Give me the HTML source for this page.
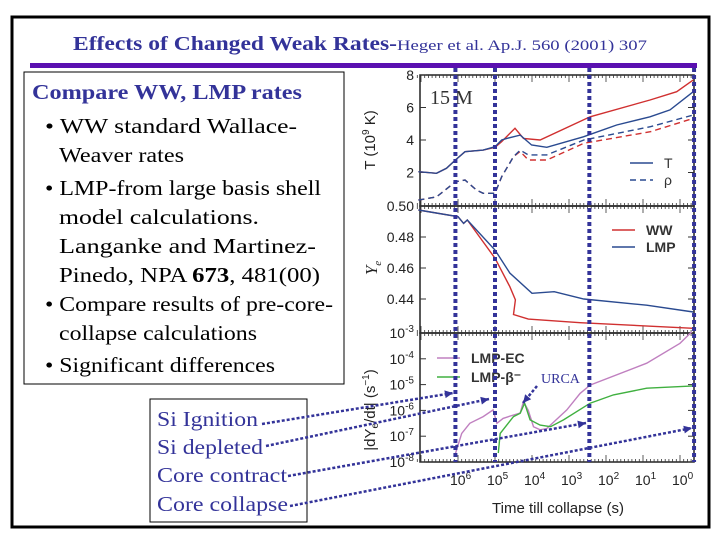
<!DOCTYPE html>
<html><head><meta charset="utf-8"><style>
body{margin:0;background:#fff;width:720px;height:540px;overflow:hidden}
svg{display:block}
.ser{font-family:"Liberation Serif",serif}
.san{font-family:"Liberation Sans",sans-serif}
</style></head><body>
<svg id="s" width="720" height="540" viewBox="0 0 720 540" xmlns="http://www.w3.org/2000/svg">
<rect x="12" y="17" width="697" height="510" fill="none" stroke="#000" stroke-width="3"/>
<text x="73" y="50" class="ser" fill="#333399"><tspan font-size="20" font-weight="bold" textLength="324" lengthAdjust="spacingAndGlyphs">Effects of Changed Weak Rates-</tspan><tspan font-size="15" textLength="250" lengthAdjust="spacingAndGlyphs">Heger et al. Ap.J. 560 (2001) 307</tspan></text>
<rect x="30" y="63" width="667" height="5" fill="#5a10b0"/>
<rect x="24" y="72" width="320" height="312" fill="#fff" stroke="#000" stroke-width="1"/>
<g class="ser" font-size="21">
<text x="32" y="99" fill="#333399" font-weight="bold" textLength="270" lengthAdjust="spacingAndGlyphs">Compare WW, LMP rates</text>
<text x="45" y="133" textLength="252" lengthAdjust="spacingAndGlyphs">• WW standard Wallace-</text>
<text x="59" y="162" textLength="125" lengthAdjust="spacingAndGlyphs">Weaver rates</text>
<text x="45" y="195" textLength="276" lengthAdjust="spacingAndGlyphs">• LMP-from large basis shell</text>
<text x="59" y="224" textLength="200" lengthAdjust="spacingAndGlyphs">model calculations.</text>
<text x="59" y="253" textLength="257" lengthAdjust="spacingAndGlyphs">Langanke and Martinez-</text>
<text x="59" y="282" textLength="261" lengthAdjust="spacingAndGlyphs">Pinedo, NPA <tspan font-weight="bold">673</tspan>, 481(00)</text>
<text x="45" y="311" textLength="288" lengthAdjust="spacingAndGlyphs">• Compare results of pre-core-</text>
<text x="59" y="340" textLength="198" lengthAdjust="spacingAndGlyphs">collapse calculations</text>
<text x="45" y="372" textLength="230" lengthAdjust="spacingAndGlyphs">• Significant differences</text>
</g>
<rect x="150" y="399" width="157" height="123" fill="#fff" stroke="#000" stroke-width="1"/>
<g class="ser" font-size="21" fill="#333399">
<text x="157" y="426" textLength="101" lengthAdjust="spacingAndGlyphs">Si Ignition</text>
<text x="157" y="454" textLength="106" lengthAdjust="spacingAndGlyphs">Si depleted</text>
<text x="157" y="482" textLength="130" lengthAdjust="spacingAndGlyphs">Core contract</text>
<text x="157" y="511" textLength="131" lengthAdjust="spacingAndGlyphs">Core collapse</text>
</g>
<g id="chart"></g>
</svg>
<script>
// ---- data (x = log10 time till collapse in s) ----
const xTicks=[6,5,4,3,2,1,0];
const tTicks=[2,4,6,8];
const yeTicks=[0.50,0.48,0.46,0.44];
const rTicks=[-3,-4,-5,-6,-7,-8];
const tBlueX=[7.07,6.58,6.31,6.07,5.81,5.32,5.0,4.82,4.68,4.32,4.01,3.6,2.61,1.71,0.81,0.27,-0.36];
const tBlueY=[2.05,1.95,2.26,2.77,3.28,3.38,3.59,4.0,4.1,4.3,3.69,3.55,4.2,4.92,5.43,5.85,6.97];
const tRedX=[7.07,6.58,6.31,6.07,5.81,5.32,5.0,4.82,4.46,4.23,3.78,2.43,0.81,0.09,-0.36];
const tRedY=[2.05,1.95,2.26,2.77,3.28,3.38,3.55,3.9,4.72,4.1,4.0,5.43,6.46,6.97,7.7];
const rhoBlueX=[7.07,6.58,6.07,5.81,5.5,5.32,5.0,4.82,4.5,4.32,4.1,3.6,2.6,0.8,-0.36];
const rhoBlueY=[0.3,0.5,1.43,1.54,0.92,0.72,0.72,1.74,2.97,3.38,3.08,3.08,4.0,4.82,5.54];
const rhoRedX=[7.07,6.58,6.07,5.81,5.5,5.32,5.0,4.82,4.5,4.32,4.1,3.6,2.6,0.8,-0.36];
const rhoRedY=[0.3,0.5,1.43,1.54,0.92,0.72,0.72,1.74,2.97,3.3,2.77,2.77,3.8,4.51,5.33];
const yeBlueX=[7.07,6.0,5.85,5.75,5.0,4.6,4.0,3.4,2.6,0.9,-0.36];
const yeBlueY=[0.4974,0.4931,0.4888,0.491,0.4716,0.4568,0.4437,0.4447,0.4400,0.4360,0.4316];
const yeRedX=[7.07,6.0,5.85,5.75,5.0,4.6,4.45,4.5,4.1,2.7,-0.36];
const yeRedY=[0.4974,0.4931,0.4888,0.491,0.4663,0.448,0.4394,0.4300,0.4270,0.4247,0.4211];
const ecX=[6.08,5.9,5.68,5.32,5.05,4.95,4.78,4.5,4.32,4.23,4.1,3.96,3.78,3.6,3.06,2.7,2.43,0.9,0,-0.32];
const ecY=[-7.73,-6.89,-6.5,-6.24,-5.98,-6.5,-6.31,-6.18,-6.1,-5.66,-6.0,-6.63,-6.75,-6.7,-5.98,-5.34,-5.02,-4.17,-3.4,-2.95];
const btX=[4.91,4.86,4.5,4.32,4.2,4.05,3.78,3.5,3.15,2.43,1.8,0.9,-0.36];
const btY=[-7.65,-6.89,-6.24,-6.11,-5.72,-6.37,-6.57,-6.63,-6.37,-5.72,-5.4,-5.14,-5.05];
const stageT=[6.07,5.0,2.45,-0.38];

// ---- axes ----
const L=420,R=694;
const X=v=>680-37*v;
const YT=v=>205-16.25*v;
const YE=v=>206+(0.50-v)/0.02*31;
const YR=v=>333+(-3-v)*25.8;
const NS='http://www.w3.org/2000/svg';
const g=document.getElementById('chart');
function mk(tag,at,parent){const e=document.createElementNS(NS,tag);for(const k in at)e.setAttribute(k,at[k]);(parent||g).appendChild(e);return e;}
function line(xs,ys,fy,color,name,dash){
  const d=xs.map((x,i)=>(i?'L':'M')+X(x).toFixed(1)+','+fy(ys[i]).toFixed(1)).join('');
  const p=mk('path',{d:d,fill:'none',stroke:color,'stroke-width':1.4});
  if(dash)p.setAttribute('stroke-dasharray','6,4');
  
  
}
[[75,206],[206,333],[333,462]].forEach((b,i)=>{
  const r=mk('rect',{x:L,y:b[0],width:R-L,height:b[1]-b[0],fill:'none',stroke:'#222','stroke-width':1.5});
  
  
});
for(let k=-0.3;k<7.1;k+=0.1){
  const v=Math.round(k*10)/10; const maj=Math.abs(v-Math.round(v))<1e-6;
  const len=maj?7:3;
  [206,333].forEach(y=>mk('line',{x1:X(v),x2:X(v),y1:y-len,y2:y+len,stroke:'#333','stroke-width':0.8}));
  mk('line',{x1:X(v),x2:X(v),y1:75,y2:75+len,stroke:'#333','stroke-width':0.8});
  mk('line',{x1:X(v),x2:X(v),y1:462,y2:462-len,stroke:'#333','stroke-width':0.8});
}
xTicks.forEach(v=>{
  const t=mk('text',{x:X(v)-8,y:485,'font-size':14,fill:'#222',class:'san'});
  t.textContent='10';
  const s=mk('tspan',{dy:-6,'font-size':10},t); s.textContent=String(v);
  
  
});
function ylab(txt,y,name,sup){
  const t=mk('text',{x:414,y:y+5,'font-size':14,fill:'#222','text-anchor':'end',class:'san'});
  t.textContent=txt;
  if(sup){const s=mk('tspan',{dy:-6,'font-size':10},t);s.textContent=sup;}
  
  
  mk('line',{x1:L,x2:L+6,y1:y,y2:y,stroke:'#333'});mk('line',{x1:R-6,x2:R,y1:y,y2:y,stroke:'#333'});
}
tTicks.forEach(v=>ylab(String(v),YT(v),'t-tick-label'));
yeTicks.forEach(v=>ylab(v.toFixed(2),YE(v),'ye-tick-label'));
rTicks.forEach(v=>ylab('10',YR(v),'rate-tick-label',String(v)));
let at=mk('text',{transform:'translate(375,140) rotate(-90)','font-size':15,fill:'#222','text-anchor':'middle',class:'san'});
at.innerHTML='T (10<tspan dy="-6" font-size="10">9</tspan><tspan dy="6"> K)</tspan>';


at=mk('text',{transform:'translate(377,268) rotate(-90)','font-size':17,fill:'#222','text-anchor':'middle',class:'ser','font-style':'italic'});
at.innerHTML='Y<tspan dy="4" font-size="11">e</tspan>';


at=mk('text',{transform:'translate(375,410) rotate(-90)','font-size':15,fill:'#222','text-anchor':'middle',class:'san'});
at.innerHTML='|dY<tspan font-size="10" dy="3">e</tspan><tspan dy="-3">/dt| (s</tspan><tspan dy="-6" font-size="10">−1</tspan><tspan dy="6">)</tspan>';


at=mk('text',{x:558,y:513,'font-size':15,fill:'#222','text-anchor':'middle',class:'san'});
at.textContent='Time till collapse (s)';


at=mk('text',{x:430,y:104,'font-size':20,fill:'#333',class:'ser'});
at.textContent='15 M';


line(rhoRedX,rhoRedY,YT,'#d03030','rho-ww',1);
line(rhoBlueX,rhoBlueY,YT,'#2a4a90','rho-lmp',1);
line(tRedX,tRedY,YT,'#d03030','t-ww');
line(tBlueX,tBlueY,YT,'#2a4a90','t-lmp');
line(yeRedX,yeRedY,YE,'#d03030','ye-ww');
line(yeBlueX,yeBlueY,YE,'#2a4a90','ye-lmp');
line(ecX,ecY,YR,'#c080c0','rate-lmp-ec');
line(btX,btY,YR,'#40b040','rate-lmp-beta');
function leg(y,color,txt,dash,x0,name,bold,fs){
  const l=mk('line',{x1:x0,x2:x0+23,y1:y,y2:y,stroke:color,'stroke-width':1.6});
  if(dash)l.setAttribute('stroke-dasharray','6,4');
  const t=mk('text',{x:x0+34,y:y+5,'font-size':fs||14,fill:'#333',class:'san','font-weight':bold?'bold':'normal'});
  t.textContent=txt;
  
  
}
leg(163,'#2a4a90','T',0,630,'legend-t');
leg(180,'#2a4a90','ρ',1,630,'legend-rho');
leg(230,'#d03030','WW',0,612,'legend-ww',1);
leg(247,'#2a4a90','LMP',0,612,'legend-lmp',1);
leg(358,'#c080c0','LMP-EC',0,437,'legend-lmp-ec',1);
leg(377,'#40b040','LMP-β⁻',0,437,'legend-lmp-beta',1);
stageT.forEach(v=>{
  const l=mk('line',{x1:X(v),x2:X(v),y1:68,y2:462,stroke:'#333399','stroke-width':4,'stroke-dasharray':'4,3'});
  
  
});
const arrows=[[262,424,453,393],[266,446,489,399],[288,476,586,423],[290,506,692,428],[537,386,523,403]];
arrows.forEach(a=>{
  const l=mk('line',{x1:a[0],y1:a[1],x2:a[2],y2:a[3],stroke:'#333399','stroke-width':2.5,'stroke-dasharray':'3,2'});
  
  
  const ang=Math.atan2(a[3]-a[1],a[2]-a[0]);
  const p=[[a[2],a[3]],[a[2]-9*Math.cos(ang-0.45),a[3]-9*Math.sin(ang-0.45)],[a[2]-9*Math.cos(ang+0.45),a[3]-9*Math.sin(ang+0.45)]];
  mk('polygon',{points:p.map(q=>q.join(',')).join(' '),fill:'#333399'});
});
at=mk('text',{x:541,y:383,'font-size':14,fill:'#333399',class:'ser'});
at.textContent='URCA';


</script>
</body></html>
